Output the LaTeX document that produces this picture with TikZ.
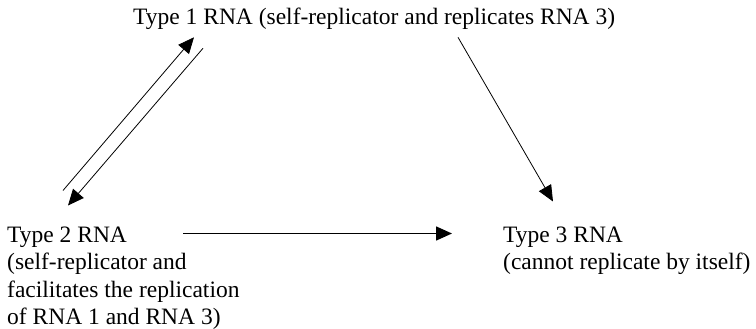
\documentclass[tikz,border=0pt]{standalone}
\usepackage{fontspec}
\setmainfont{Liberation Serif}
\usetikzlibrary{arrows.meta}

\begin{document}
\begin{tikzpicture}[x=1pt, y=-1pt,
      every node/.style = {inner sep=0pt, align=left, font=\fontsize{23.5}{27.5}\selectfont},
      link/.style = {line width=0.8pt, -{Triangle[length=16pt,width=14pt]}},
      thick link/.style = {link, line width=1.6pt}]
      \useasboundingbox (0,0) rectangle (756,329);
      \node[anchor=base west] (t1) at (133,25)
        {Type 1 RNA (self-replicator and replicates RNA 3)};
      \node[anchor=north west] (t2) at (7,226.5)
        {Type 2 RNA\\(self-replicator and\\facilitates the replication\\of RNA 1 and RNA 3)};
      \node[anchor=north west] (t3) at (503,226.5)
        {Type 3 RNA\\(cannot replicate by itself)};
      \draw[link] ([shift={(56,-36)}]t2.north west) -- ([shift={(61,7)}]t1.south west);
      \draw[link] ([shift={(70,18)}]t1.south west) -- ([shift={(61,-21)}]t2.north west);
      \draw[link] ([shift={(325,7)}]t1.south west) -- ([shift={(50,-25)}]t3.north west);
      \draw[thick link] ([shift={(176,7)}]t2.north west) -- ([shift={(-51,7)}]t3.north west);
\end{tikzpicture}
\end{document}
